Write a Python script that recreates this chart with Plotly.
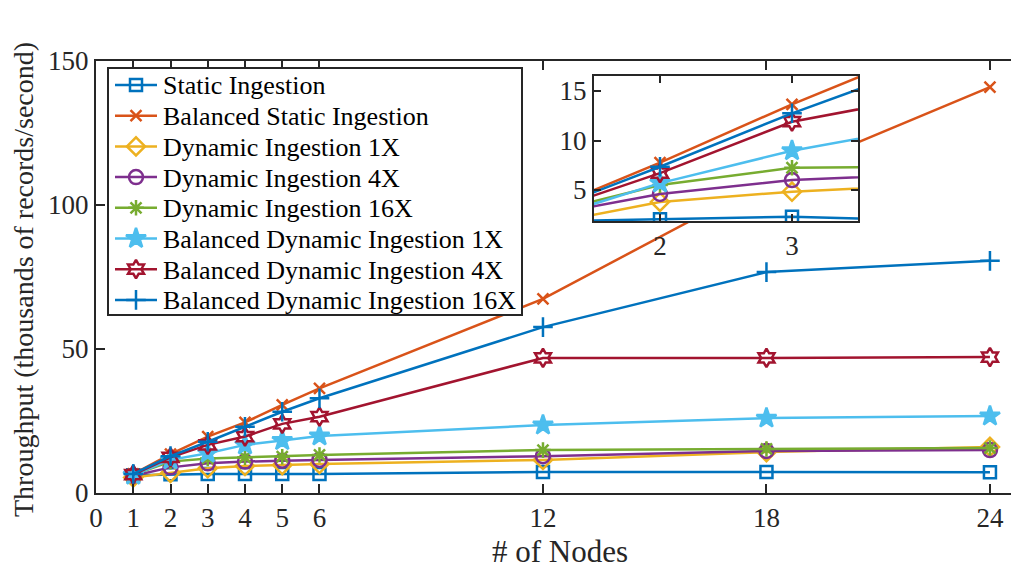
import plotly.graph_objects as go

# ---------------- data ----------------
nodes = [1, 2, 3, 4, 5, 6, 12, 18, 24]
static_ing = [6.2, 6.5, 6.6, 6.6, 6.6, 6.6, 7.3, 7.3, 7.2]
bal_static = [6.6, 13.5, 19.6, 24.5, 30.6, 36.3, 67.4, 108.5, 140.9]
dyn_1x = [5.4, 7.0, 8.6, 9.4, 9.7, 10.1, 11.5, 14.2, 16.0]
dyn_4x = [6.0, 8.9, 10.3, 10.9, 11.2, 11.5, 12.8, 14.6, 14.9]
dyn_16x = [6.3, 10.9, 12.0, 12.4, 12.6, 13.2, 14.9, 15.3, 15.6]
bal_dyn_1x = [6.2, 11.5, 13.8, 16.7, 18.2, 19.8, 23.6, 26.0, 26.7]
bal_dyn_4x = [6.4, 12.4, 16.7, 19.6, 24.0, 26.5, 46.9, 46.9, 47.2]
bal_dyn_16x = [6.6, 12.8, 17.8, 23.0, 28.2, 32.9, 57.6, 76.7, 80.6]

inset_nodes = [1, 2, 3, 4]
in_static = [1.8, 2.05, 2.3, 1.95]
in_bal_static = [2.2, 7.76, 13.66, 19.1]
in_dyn_1x = [1.2, 3.8, 4.83, 5.5]
in_dyn_4x = [2.1, 4.6, 6.0, 6.6]
in_dyn_16x = [2.2, 5.5, 7.25, 7.35]
in_bal_dyn_1x = [1.5, 5.7, 8.97, 11.4]
in_bal_dyn_4x = [2.2, 6.7, 11.9, 14.4]
in_bal_dyn_16x = [2.2, 7.35, 12.75, 17.6]

names = ["Static Ingestion", "Balanced Static Ingestion", "Dynamic Ingestion 1X",
         "Dynamic Ingestion 4X", "Dynamic Ingestion 16X", "Balanced Dynamic Ingestion 1X",
         "Balanced Dynamic Ingestion 4X", "Balanced Dynamic Ingestion 16X"]
main_series = [static_ing, bal_static, dyn_1x, dyn_4x, dyn_16x, bal_dyn_1x, bal_dyn_4x, bal_dyn_16x]
inset_series = [in_static, in_bal_static, in_dyn_1x, in_dyn_4x, in_dyn_16x,
                in_bal_dyn_1x, in_bal_dyn_4x, in_bal_dyn_16x]

x_ticks = [0, 1, 2, 3, 4, 5, 6, 12, 18, 24]
y_ticks = [0, 50, 100, 150]
inset_x_ticks = [2, 3]
inset_y_ticks = [5, 10, 15]

# ---------------- styles ----------------
colors = ["#0072BD", "#D95319", "#EDB120", "#7E2F8E", "#77AC30", "#4DBEEE", "#A2142F", "#0072BD"]
symbols = ["square-open", "x-thin-open", "diamond-open", "circle-open", "asterisk-open",
           "star", "hexagram-open", "cross-thin-open"]
sizes = [12, 11, 14, 14, 13, 15, 14, 14]

FONT = "Liberation Serif, Times New Roman, serif"
AX = "#262626"
LW = 2.5

# page body has an 8px margin: lay out in screen pixels, subtract the offset
OFF = 8
SCR_W, SCR_H = 1019, 571
W, H = SCR_W - OFF, SCR_H - OFF
PL, PR, PT, PB = 96, 1019, 61, 493          # plot area in screen pixels
L, R, T, B = PL - OFF, W - (PR - OFF), PT - OFF, H - (PB - OFF)
pw = W - L - R
ph = H - T - B


def px_x(p):
    return (p - PL) / pw


def px_y(p):
    return (PB - p) / ph


fig = go.Figure()


def mk(c, s, sz):
    return dict(symbol=s, size=sz, color=c, line=dict(color=c, width=2.5))


for n, ys, c, s, sz in zip(names, main_series, colors, symbols, sizes):
    fig.add_trace(go.Scatter(
        x=nodes, y=ys, name=n, mode="lines+markers", showlegend=False,
        line=dict(color=c, width=LW), marker=mk(c, s, sz),
        xaxis="x", yaxis="y"))

for n, ys, c, s, sz in zip(names, inset_series, colors, symbols, sizes):
    fig.add_trace(go.Scatter(
        x=inset_nodes, y=ys, name=n, mode="lines+markers", showlegend=False,
        line=dict(color=c, width=LW), marker=mk(c, s, sz),
        xaxis="x2", yaxis="y2"))

# ---- hand-drawn legend box in its own (hidden) axes, screen-pixel units ----
LEG_L, LEG_R, LEG_T, LEG_B = 107, 523, 67, 316
row0, row_gap = 85, 30.7
annotations = []
for i, (n, c, s, sz) in enumerate(zip(names, colors, symbols, sizes)):
    yy = row0 + i * row_gap
    fig.add_trace(go.Scatter(
        x=[115, 136, 157], y=[yy, yy, yy], mode="lines", showlegend=False,
        line=dict(color=c, width=LW), xaxis="x3", yaxis="y3", hoverinfo="skip"))
    fig.add_trace(go.Scatter(
        x=[136], y=[yy], mode="markers", showlegend=False,
        marker=mk(c, s, sz), xaxis="x3", yaxis="y3", hoverinfo="skip"))
    annotations.append(dict(
        text=n, xref="x3", yref="y3", x=161, y=yy + 1, xanchor="left", yanchor="middle",
        showarrow=False, font=dict(family=FONT, size=26, color="#000000")))

fig.add_shape(type="rect", xref="x3", yref="y3",
              x0=LEG_L + 1, x1=LEG_R - 1, y0=LEG_T + 1, y1=LEG_B - 1,
              fillcolor="white", line=dict(color=AX, width=2), layer="below")

inset_xr = [1.5, 3.5]
inset_yr = [1.87, 16.52]

# white background behind the inset (drawn in the inset subplot layer)
fig.add_shape(type="rect", xref="x2", yref="y2",
              x0=inset_xr[0], x1=inset_xr[1], y0=inset_yr[0], y1=inset_yr[1],
              fillcolor="white", line=dict(width=0), layer="below")

annotations += [
    dict(text="# of Nodes", xref="paper", yref="paper",
         x=px_x(560), y=px_y(551), xanchor="center", yanchor="middle",
         showarrow=False, font=dict(family=FONT, size=31, color=AX)),
    dict(text="Throughput (thousands of records/second)", xref="paper", yref="paper",
         x=px_x(23), y=px_y(280), xanchor="center", yanchor="middle", textangle=-90,
         showarrow=False, font=dict(family=FONT, size=28, color=AX)),
]

common_ax = dict(showgrid=False, zeroline=False, showline=True, linecolor=AX, linewidth=2,
                 tickwidth=2, tickcolor=AX, ticks="inside", automargin=False,
                 tickfont=dict(family=FONT, size=27, color=AX))

fig.update_layout(
    width=W, height=H,
    margin=dict(l=L, r=R, t=T, b=B, autoexpand=False),
    paper_bgcolor="white", plot_bgcolor="white",
    font=dict(family=FONT, size=27, color=AX),
    showlegend=False,
    xaxis=dict(range=[0, 24.78], tickvals=x_ticks, ticktext=[str(v) for v in x_ticks],
               mirror="ticks", ticklen=9, domain=[0, 1], anchor="y", **common_ax),
    yaxis=dict(range=[0, 150], tickvals=y_ticks, mirror=False, ticklen=9,
               domain=[0, 1], anchor="x", **common_ax),
    xaxis2=dict(range=inset_xr, tickvals=inset_x_ticks, anchor="y2",
                domain=[px_x(594), px_x(858)], mirror="ticks", ticklen=7, **common_ax),
    yaxis2=dict(range=inset_yr, tickvals=inset_y_ticks, anchor="x2",
                domain=[px_y(221), px_y(76)], mirror="ticks", ticklen=7, **common_ax),
    xaxis3=dict(range=[LEG_L, LEG_R], domain=[px_x(LEG_L), px_x(LEG_R)], anchor="y3",
                visible=False, fixedrange=True),
    yaxis3=dict(range=[LEG_B, LEG_T], domain=[px_y(LEG_B), px_y(LEG_T)], anchor="x3",
                visible=False, fixedrange=True),
    annotations=annotations,
)

fig.write_html("out.html")
